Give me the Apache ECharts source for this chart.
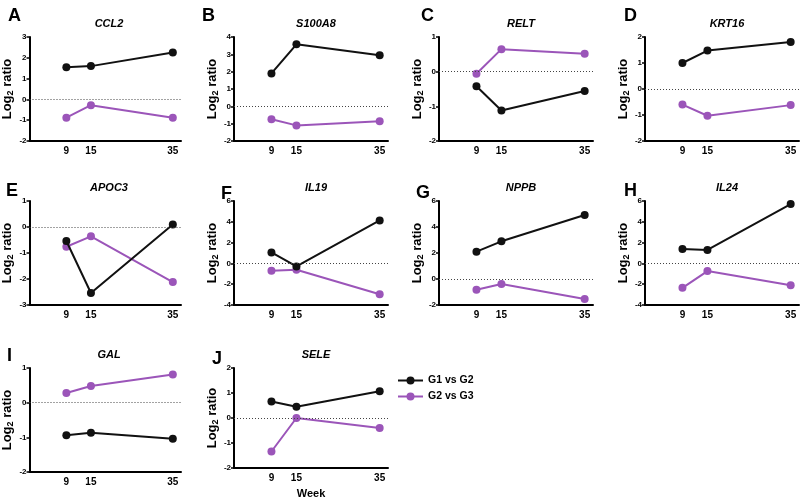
<!DOCTYPE html>
<html><head><meta charset="utf-8">
<script src="https://cdn.jsdelivr.net/npm/echarts@6/dist/echarts.min.js"></script>
<style>html,body{margin:0;padding:0;background:#fff}#c{width:800px;height:500px}</style>
</head><body><div id="c"></div>
<script>
var weeks = [9, 15, 35];
var genes = ['CCL2','S100A8','RELT','KRT16','APOC3','IL19','NPPB','IL24','GAL','SELE'];
var letters = ['A','B','C','D','E','F','G','H','I','J'];
var g1vsG2 = [
  [1.55, 1.6, 2.25],
  [1.9, 3.58, 2.95],
  [-0.42, -1.12, -0.56],
  [1.0, 1.48, 1.81],
  [-0.54, -2.54, 0.1],
  [1.06, -0.29, 4.13],
  [2.1, 2.9, 4.92],
  [1.39, 1.29, 5.71],
  [-0.94, -0.87, -1.04],
  [0.66, 0.45, 1.07]
];
var g2vsG3 = [
  [-0.88, -0.28, -0.88],
  [-0.75, -1.1, -0.86],
  [-0.06, 0.65, 0.52],
  [-0.6, -1.03, -0.62],
  [-0.76, -0.36, -2.12],
  [-0.71, -0.61, -2.97],
  [-0.82, -0.38, -1.54],
  [-2.35, -0.74, -2.1],
  [0.28, 0.48, 0.81],
  [-1.34, 0.0, -0.4]
];
var yMin = [-2, -2, -2, -2, -3, -4, -2, -4, -2, -2];
var yMax = [3, 4, 1, 2, 1, 6, 6, 6, 1, 2];
var yStep = [1, 1, 1, 1, 1, 2, 2, 2, 1, 1];
var seriesNames = ['G1 vs G2', 'G2 vs G3'];
var xTickLabels = ['9', '15', '35'];

// layout
var colLeft = [27, 234, 439, 645];
var rowTop = [37, 201, 368];
var gridH = 104, gridW = 154;
var titleTop = [13, 177, 344];
var letterPos = [[3,2],[197,2],[416,2],[619,2],[1,177],[216,180],[411,179],[619,177],[2,342],[207,345]];

var BLACK = '#111111', PURPLE = '#9b55b9';
var grids = [], xAxes = [], yAxes = [], series = [], titles = [];
for (var i = 0; i < genes.length; i++) {
  var r = Math.floor(i / 4), c = i % 4;
  grids.push({left: colLeft[c], top: rowTop[r], width: gridW, height: gridH});
  xAxes.push({
    gridIndex: i, type: 'value', min: 0, max: 37,
    axisLine: {show: true, onZero: false, lineStyle: {color: '#000', width: 2}},
    axisTick: {show: false}, splitLine: {show: false},
    axisLabel: {
      customValues: weeks, margin: 5,
      color: '#000', fontWeight: 'bold', fontSize: 10, fontFamily: 'Liberation Sans, Arial',
      formatter: function (v) { var k = weeks.indexOf(v); return k >= 0 ? xTickLabels[k] : ''; }
    },
    name: i === 9 ? 'Week' : '', nameLocation: 'middle', nameGap: 20,
    nameTextStyle: {color: '#000', fontWeight: 'bold', fontSize: 11, fontFamily: 'Liberation Sans, Arial'}
  });
  yAxes.push({
    gridIndex: i, type: 'value', min: yMin[i], max: yMax[i], interval: yStep[i],
    axisLine: {show: true, onZero: false, lineStyle: {color: '#000', width: 2}},
    axisTick: {show: true, length: 3, lineStyle: {color: '#000', width: 1.5}},
    splitLine: {show: false},
    axisLabel: {margin: 3, color: '#000', fontWeight: 'bold', fontSize: 8, fontFamily: 'Liberation Sans, Arial'},
    name: '{a|Log}{b|2}{a| ratio}', nameLocation: 'middle', nameGap: 11, nameRotate: 90,
    nameTextStyle: {
      color: '#000', fontFamily: 'Liberation Sans, Arial',
      rich: {
        a: {fontSize: 13, fontWeight: 'bold', color: '#000', fontFamily: 'Liberation Sans, Arial'},
        b: {fontSize: 9, fontWeight: 'bold', color: '#000', fontFamily: 'Liberation Sans, Arial', padding: [7, 0, 0, 0]}
      }
    }
  });
  var d1 = weeks.map(function (w, k) { return [w, g1vsG2[i][k]]; });
  var d2 = weeks.map(function (w, k) { return [w, g2vsG3[i][k]]; });
  series.push({
    name: seriesNames[1], type: 'line', xAxisIndex: i, yAxisIndex: i, data: d2,
    symbol: 'circle', symbolSize: 8, color: PURPLE,
    lineStyle: {width: 2, color: PURPLE}, itemStyle: {color: PURPLE},
    animation: false, z: 2,
    markLine: {
      silent: true, symbol: ['none', 'none'], label: {show: false},
      lineStyle: {type: [1, 2], color: '#444', width: 1},
      data: [{yAxis: 0}], animation: false
    }
  });
  series.push({
    name: seriesNames[0], type: 'line', xAxisIndex: i, yAxisIndex: i, data: d1,
    symbol: 'circle', symbolSize: 8, color: BLACK,
    lineStyle: {width: 2, color: BLACK}, itemStyle: {color: BLACK},
    animation: false, z: 3
  });
  titles.push({
    text: genes[i], left: colLeft[c] + gridW / 2, top: titleTop[r], textAlign: 'center',
    textStyle: {fontSize: 11, fontWeight: 'bold', fontStyle: 'italic', color: '#000', fontFamily: 'Liberation Sans, Arial'}
  });
  titles.push({
    text: letters[i], left: letterPos[i][0], top: letterPos[i][1],
    textStyle: {fontSize: 18, fontWeight: 'bold', color: '#000', fontFamily: 'Liberation Sans, Arial'}
  });
}

var chart = echarts.init(document.getElementById('c'), null, {renderer: 'canvas'});
chart.setOption({
  backgroundColor: '#fff',
  animation: false,
  title: titles,
  grid: grids, xAxis: xAxes, yAxis: yAxes, series: series,
  legend: {
    data: seriesNames, orient: 'vertical', left: 392, top: 370, itemGap: 5,
    itemWidth: 25, itemHeight: 10,
    textStyle: {fontSize: 10.5, fontWeight: 'bold', color: '#000', fontFamily: 'Liberation Sans, Arial'}
  }
});
</script></body></html>
